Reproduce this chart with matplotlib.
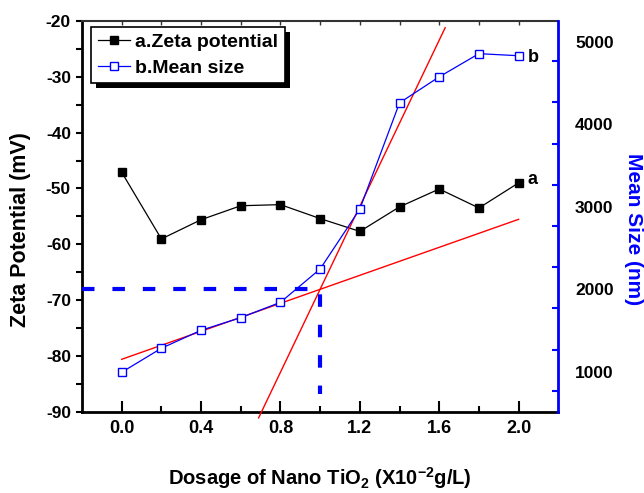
import numpy as np
import matplotlib
matplotlib.use('Agg')
import matplotlib.pyplot as plt
from matplotlib.patches import Rectangle
from matplotlib.transforms import IdentityTransform

plt.rcParams['font.family'] = 'Liberation Sans'
plt.rcParams['font.weight'] = 'bold'
plt.rcParams['axes.unicode_minus'] = False
plt.rcParams['mathtext.fontset'] = 'custom'
plt.rcParams['mathtext.rm'] = 'Liberation Sans:bold'
plt.rcParams['mathtext.it'] = 'Liberation Sans:bold'
plt.rcParams['mathtext.bf'] = 'Liberation Sans:bold'
plt.rcParams['mathtext.default'] = 'rm'

# data
dosage = [0.0, 0.2, 0.4, 0.6, 0.8, 1.0, 1.2, 1.4, 1.6, 1.8, 2.0]
zeta = [-47.1, -59.05, -55.6, -53.1, -52.9, -55.4, -57.7, -53.3, -50.1, -53.5, -49.0]
mean_size = [993, 1284, 1502, 1655, 1841, 2245, 2972, 4259, 4574, 4855, 4830]

# red fit lines (end points)
fit1_x = [0.0, 2.0]
fit1_y = [1150, 2847]
fit2_x = [0.69, 1.63]
fit2_y = [440, 5170]

# dashed guide to the intersection
guide_x = [-0.2, 1.0, 1.0]
guide_y = [2000, 2000, 730]

fig = plt.figure(figsize=(6.44, 4.93), dpi=100)
ax = fig.add_axes([82 / 644, 1 - 411.7 / 493, 476.3 / 644, 390.7 / 493])
ax2 = ax.twinx()

# left axis: zeta potential
l1, = ax.plot(dosage, zeta, color='black', lw=0.9, marker='s', markersize=5.5,
              markerfacecolor='black', markeredgecolor='black', label='a.Zeta potential')
ax.set_xlim(-0.2, 2.2)
ax.set_ylim(-90, -20)
ax.set_xticks(np.arange(0, 2.01, 0.4))
ax.set_xticks(np.arange(0, 2.01, 0.2), minor=True)
ax.set_xticklabels(['%.1f' % v for v in np.arange(0, 2.01, 0.4)])
ax.set_yticks(np.arange(-90, -19, 10))
ax.set_yticks(np.arange(-90, -19, 5), minor=True)
ax.tick_params(axis='x', which='major', direction='in', length=8, width=1.5, labelsize=13, pad=6)
ax.tick_params(axis='x', which='minor', direction='in', length=4, width=1.5)
ax.tick_params(axis='y', which='both', direction='out', length=4, width=1.5, labelsize=12.5, pad=4)
for s in ['left', 'bottom']:
    ax.spines[s].set_linewidth(2)
ax.spines['top'].set_linewidth(1.5)
ax.spines['top'].set_color('#333333')

top = ax.secondary_xaxis('top')
top.set_xticks(np.arange(0, 2.01, 0.2))
top.tick_params(direction='in', length=3, width=1, color='#333333', labeltop=False)
top.spines['top'].set_visible(False)

# right axis: mean size
ax2.plot(fit1_x, fit1_y, color='red', lw=1)
ax2.plot(fit2_x, fit2_y, color='red', lw=1, clip_on=False)
l2, = ax2.plot(dosage, mean_size, color='blue', lw=0.9, marker='s', markersize=5.5,
               markerfacecolor='white', markeredgecolor='blue', markeredgewidth=1,
               label='b.Mean size')
ax2.plot(guide_x, guide_y, color='blue', lw=3, linestyle=(0, (3.0, 4.3)))
ax2.set_ylim(515, 5251)
ax2.set_yticks([1000, 2000, 3000, 4000, 5000])
ax2.set_yticks(np.arange(766, 5000, 500), minor=True)
ax2.tick_params(axis='y', which='major', length=0, labelsize=12.5, pad=12)
ax2.tick_params(axis='y', which='minor', direction='in', length=4, width=1.5, color='blue')
ax2.spines['right'].set_color('blue')
ax2.spines['right'].set_linewidth(2)
for s in ['left', 'top', 'bottom']:
    ax2.spines[s].set_visible(False)

ax.text(2.044, -48.4, 'a', fontsize=13, fontweight='bold', va='center', ha='left')
ax2.text(2.044, 4811, 'b', fontsize=13, fontweight='bold', va='center', ha='left')

leg = ax2.legend(handles=[l1, l2], loc='upper left', bbox_to_anchor=(0.019, 0.985),
                 borderaxespad=0, fancybox=False, edgecolor='black', framealpha=1,
                 prop={'size': 14, 'weight': 'bold'}, handlelength=1.65, handletextpad=0.26,
                 borderpad=0.35, labelspacing=0.4)
leg.get_frame().set_linewidth(1.2)
leg.set_zorder(10)

fig.text(21 / 644, 1 - 230 / 493, 'Zeta Potential (mV)', rotation=90, fontsize=15.5,
         fontweight='bold', ha='center', va='center')
fig.text(633 / 644, 1 - 229 / 493, 'Mean Size (nm)', rotation=270, fontsize=15,
         fontweight='bold', color='blue', ha='center', va='center')
fig.text(320 / 644, 1 - 478 / 493, 'Dosage of Nano TiO$_2$ (X10$^{-2}$g/L)', fontsize=14.5,
         fontweight='bold', ha='center', va='center')

# legend shadow
fig.canvas.draw()
bb = leg.get_window_extent()
shadow = Rectangle((bb.x0 + 5, bb.y0 - 5), bb.width, bb.height, transform=IdentityTransform(),
                   facecolor='black', edgecolor='none', zorder=9, clip_on=False)
ax2.add_artist(shadow)

fig.savefig('out.png', dpi=100)
